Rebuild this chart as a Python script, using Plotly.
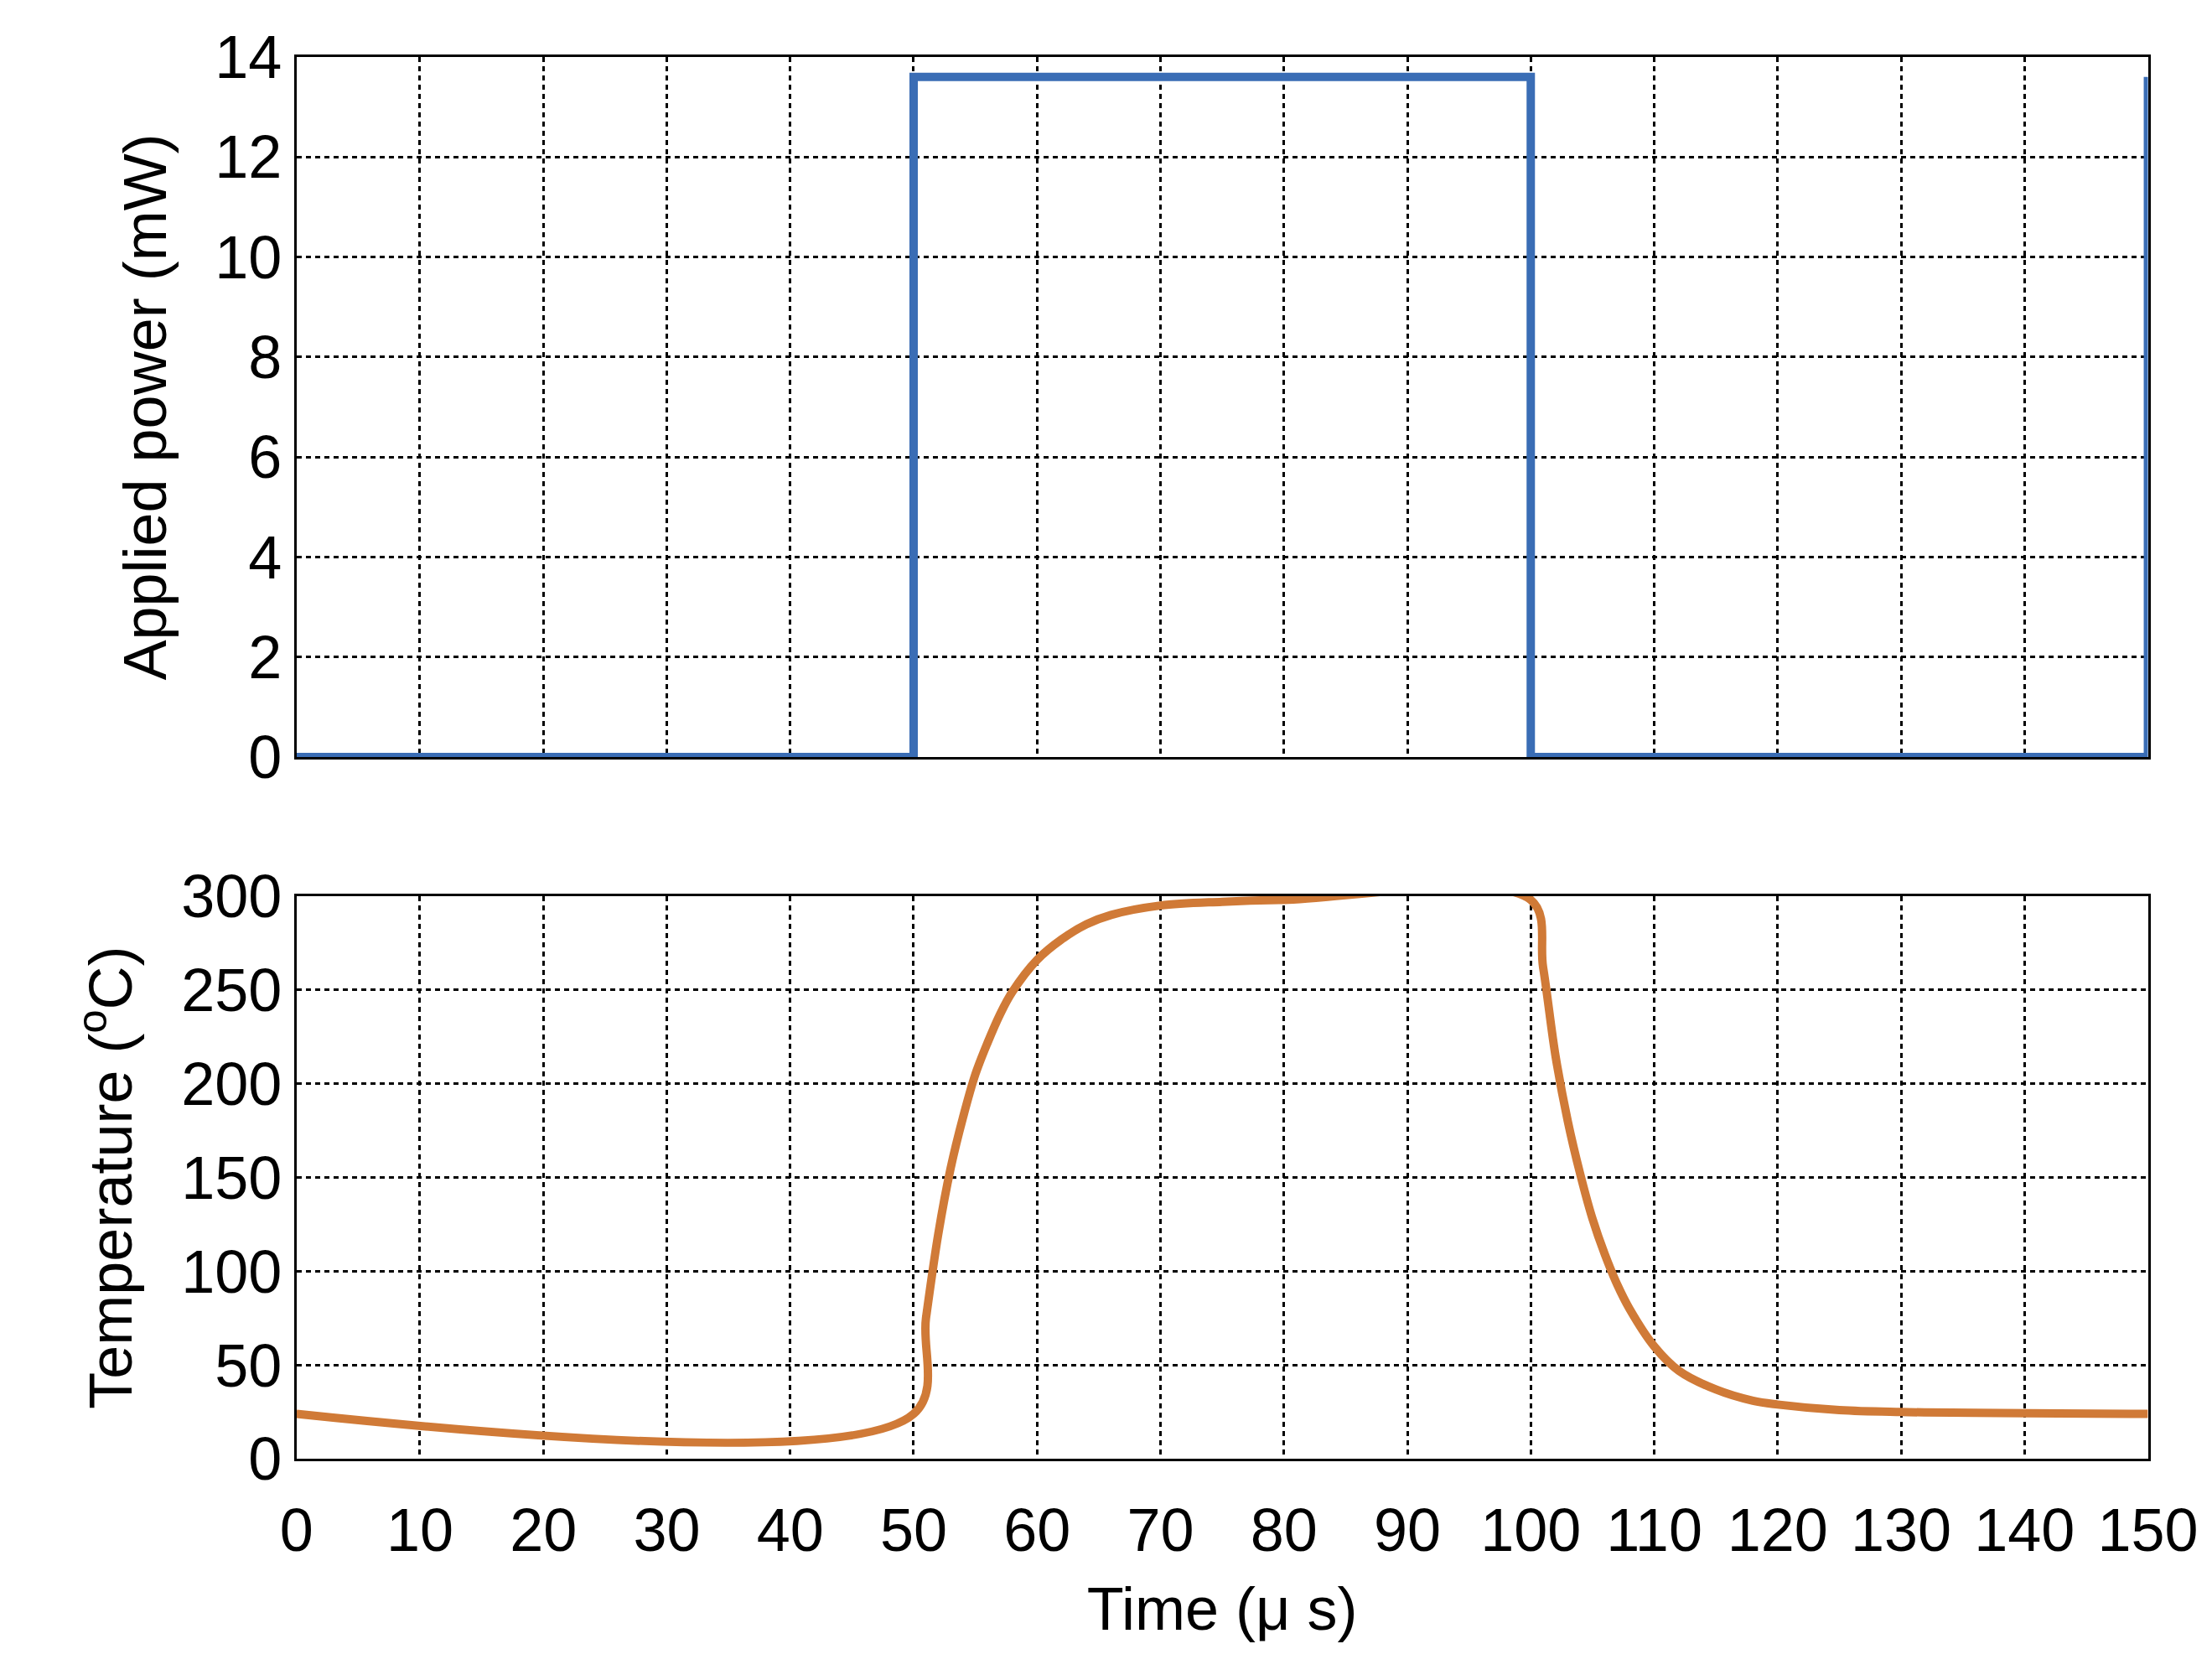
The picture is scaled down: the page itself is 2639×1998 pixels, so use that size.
import plotly.graph_objects as go
from plotly.subplots import make_subplots

time_power = [0, 50, 50, 100, 100, 150, 150]
power_mw = [0, 0, 13.6, 13.6, 0, 0, 13.6]

time_temp = [0, 50, 51, 52, 53, 54, 55, 56, 57, 58, 60, 62, 64, 66, 70, 75, 80, 100,
             101, 102, 103, 104, 105, 106, 107, 108, 110, 112, 115, 118, 120, 125, 130, 150]
temp_c = [24, 24, 75, 120, 155, 182, 205, 222, 237, 249, 266, 277, 285, 290, 295, 297, 298, 298,
          262, 215, 180, 152, 128, 109, 93, 80, 60, 47, 37, 31, 29, 26, 25, 24]

fig = make_subplots(rows=2, cols=1)
fig.add_trace(go.Scatter(x=time_power, y=power_mw, mode="lines",
                         line=dict(color="#3a6db5", width=10)), row=1, col=1)
fig.add_trace(go.Scatter(x=time_temp, y=temp_c, mode="lines", line_shape="spline",
                         line=dict(color="#d07a37", width=10)), row=2, col=1)

fs = 72
ax = dict(showline=True, mirror=True, linecolor="black", linewidth=3,
          showgrid=True, gridcolor="black", griddash="6px,5px", gridwidth=2.5,
          zeroline=False, ticks="", tickfont=dict(size=fs, color="black"))
fig.update_xaxes(range=[0, 150], dtick=10, domain=[0.131, 0.968], **ax)
fig.update_xaxes(showticklabels=False, row=1, col=1)
fig.update_xaxes(title=dict(text="Time (\u03bc s)", font=dict(size=fs, color="black"), standoff=30),
                 ticklabelstandoff=20, row=2, col=1)
fig.update_yaxes(**ax)
fig.update_yaxes(range=[0, 14], dtick=2, domain=[0.552, 0.97],
                 title=dict(text="Applied power (mW)", font=dict(size=fs, color="black"), standoff=35),
                 row=1, col=1)
fig.update_yaxes(range=[0, 300], dtick=50, domain=[0.133, 0.469],
                 title=dict(text="Temperature (<sup>o</sup>C)", font=dict(size=fs, color="black"), standoff=35),
                 row=2, col=1)

fig.update_layout(width=2639, height=1998, showlegend=False,
                  plot_bgcolor="white", paper_bgcolor="white",
                  font=dict(family="Liberation Sans"),
                  margin=dict(l=0, r=0, t=0, b=0, autoexpand=False))
fig.write_html("out.html")
